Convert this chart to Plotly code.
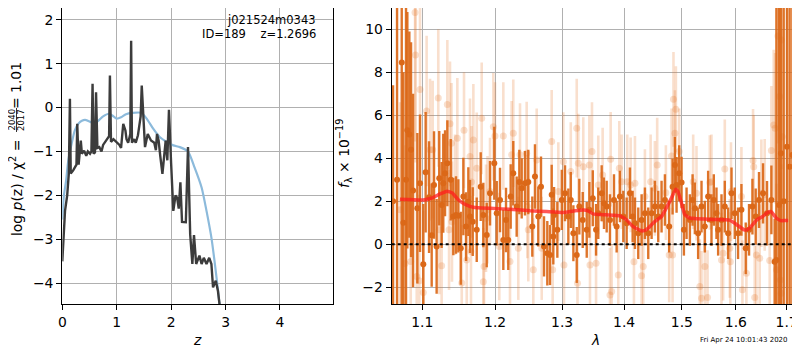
import plotly.graph_objects as go

# ---------------- data: left panel (redshift PDF) ----------------
z_pz = [0.0, 0.02, 0.05, 0.09, 0.12, 0.14, 0.155, 0.2, 0.24, 0.26, 0.275, 0.30, 0.34, 0.36, 0.40,
        0.44, 0.47, 0.51, 0.535, 0.556, 0.575, 0.60, 0.62, 0.645, 0.68, 0.72, 0.75, 0.79, 0.83,
        0.86, 0.875, 0.895, 0.94, 1.0, 1.05, 1.08, 1.12, 1.16, 1.18, 1.21, 1.25, 1.265, 1.28,
        1.32, 1.35, 1.39, 1.42, 1.44, 1.46, 1.49, 1.52, 1.57, 1.63, 1.69, 1.72, 1.74, 1.77, 1.80,
        1.84, 1.87, 1.90, 1.93, 1.96, 2.0, 2.04, 2.08, 2.11, 2.14, 2.17, 2.20, 2.27, 2.31, 2.35,
        2.39, 2.42, 2.46, 2.52, 2.56, 2.60, 2.65, 2.70, 2.74, 2.77, 2.82, 2.86, 2.92, 2.95]
logpz = [-3.5, -2.9, -2.35, -2.0, -1.5, 0.2, -1.5, -1.43, -1.36, -1.3, -0.37, -1.3, -0.75, -1.05, -0.98,
         -1.1, -1.0, -1.05, -1.0, 0.54, -1.05, -1.02, 0.35, -0.92, -0.9, -1.0, -0.85, -0.78, -0.70,
         -0.65, 0.73, -0.78, -0.72, -0.78, -0.85, -0.92, -0.37, -0.52, -0.72, -0.8, -0.6, 1.52, -0.8,
         -0.72, -0.8, -0.63, -0.35, -0.2, 0.5, -0.4, -0.9, -0.6, -0.75, -0.8, -0.97, -0.6, -0.75, -1.1,
         -1.51, -1.13, -0.75, -1.2, -0.05, -1.28, -2.35, -2.0, -2.05, -2.3, -1.70, -2.6, -2.61, -0.9, -2.88,
         -3.56, -2.9, -3.56, -3.37, -3.56, -3.42, -3.56, -3.42, -3.56, -4.09, -3.94, -4.17, -4.8, -5.5]

z_prior = [0.0, 0.03, 0.07, 0.11, 0.17, 0.23, 0.30, 0.36, 0.42, 0.51, 0.57, 0.66, 0.75, 0.86, 0.94,
           1.0, 1.08, 1.17, 1.29, 1.45, 1.55, 1.67, 1.79, 1.92, 2.04, 2.16, 2.31, 2.43, 2.56, 2.65,
           2.74, 2.82, 2.89, 2.93]
logp_prior = [-2.55, -2.0, -1.66, -1.2, -0.83, -0.52, -0.36, -0.3, -0.28, -0.32, -0.36, -0.3, -0.2, -0.14,
              -0.2, -0.25, -0.22, -0.15, -0.12, -0.12, -0.25, -0.48, -0.67, -0.78, -0.86, -0.9, -1.0,
              -1.36, -1.82, -2.35, -2.96, -3.72, -4.48, -5.0]

# ---------------- data: right panel (spectrum) ----------------
lam_dark = [1.0622, 1.0673, 1.0733, 1.0754, 1.0788, 1.0805, 1.0831, 1.0853, 1.0879, 1.0935,
            1.0970, 1.1013, 1.1044, 1.1089, 1.1124, 1.1155, 1.1190, 1.1225, 1.1257, 1.1279,
            1.1303, 1.1334, 1.1380, 1.1415, 1.1452, 1.1484, 1.1517, 1.1553, 1.1590, 1.1622,
            1.1645, 1.1683, 1.1739, 1.1795, 1.1832, 1.1880, 1.1927, 1.1988, 1.2023, 1.2070,
            1.2118, 1.2157, 1.2190, 1.2225, 1.2263, 1.2313, 1.2352, 1.2387, 1.2436, 1.2485,
            1.2545, 1.2585, 1.2635, 1.2676, 1.2722, 1.2772, 1.2813, 1.2839, 1.2864, 1.2875,
            1.2926, 1.2995, 1.3045, 1.3097, 1.3135, 1.3176, 1.3229, 1.3270, 1.3324, 1.3388,
            1.3430, 1.3485, 1.3538, 1.3574, 1.3629, 1.3667, 1.3711, 1.3765, 1.3831, 1.3875,
            1.3930, 1.3986, 1.4042, 1.4097, 1.4143, 1.4182, 1.4238, 1.4295, 1.4352, 1.4409,
            1.4467, 1.4524, 1.4582, 1.4640, 1.4699, 1.4774, 1.4834, 1.4875, 1.4905, 1.4952,
            1.4994, 1.5036, 1.5084, 1.5144, 1.5193, 1.5234, 1.5294, 1.5356, 1.5417, 1.5478,
            1.5540, 1.5583, 1.5633, 1.5664, 1.5727, 1.5789, 1.5852, 1.5916, 1.5978, 1.6041,
            1.6106, 1.6189, 1.6253, 1.6319, 1.6383, 1.6448, 1.6527, 1.6606, 1.6693, 1.6758,
            1.6793, 1.6845, 1.6885, 1.6940, 1.7007, 1.7061, 1.7117, 1.7174, 1.7225]
flux_dark = [2.0, 3.0, 8.45, 1.0, 3.0, 5.3, 5.1, 4.4, 2.5, 1.67,
             2.84, -0.93, 3.35, 2.19, 0.42, 2.76, -0.1, 3.07, 1.83, 2.84,
             3.3, 3.77, 3.0, 1.29, 1.36, 1.32, -0.19, 2.22, 0.82, 1.98,
             1.29, 1.05, 0.67, 2.68, 1.36, 0.43, 2.37, 3.77, 1.44, 2.06,
             0.2, 1.13, 0.2, 2.22, 3.3, 1.75, 2.9, 2.6, 2.84, 2.9,
             0.82, 3.15, 1.29, 2.68, -0.1, -0.42, -0.5, 2.3, 0.36, 1.36,
             0.67, 2.06, 2.37, 1.29, 2.06, 0.51, -0.5, 1.75, 1.13, 0.67,
             1.6, 2.14, 0.67, 1.44, 2.37, 1.91, 1.75, 1.13, 2.06, 0.82,
             2.22, 1.29, 0.98, 2.37, 1.29, 0.98, 0.51, 1.13, 1.44, 0.51,
             1.44, 1.75, 1.29, 1.75, 2.06, 0.82, 2.68, 3.69, 2.76, 3.3,
             2.87, 0.67, 1.44, 1.13, 2.06, 1.67, 0.51, 1.75, 0.82, 2.22,
             1.13, 2.06, 1.44, 0.67, 1.13, 1.75, 0.51, 2.37, 1.44, 0.51,
             1.6, -0.19, 0.67, 1.75, 1.29, 2.06, 2.37, 1.44, 2.06, -0.81,
             -0.73, 1.83, 4.23, 2.0, 4.54, 3.61, 4.15, 3.0, 3.0]
err_dark = [5.4, 12, 12, 7.0, 12, 5.5, 4.8, 5.0, 4.5, 3.5,
            3.2, 2.8, 2.8, 2.6, 2.4, 2.5, 2.2, 2.2, 2.0, 2.3,
            2.0, 2.0, 1.9, 1.8, 1.8, 1.7, 1.7, 1.8, 1.6, 1.6,
            1.7, 1.6, 1.5, 1.6, 1.5, 1.5, 1.5, 1.7, 1.5, 1.5,
            1.4, 1.5, 1.4, 1.5, 1.5, 1.4, 1.5, 1.4, 1.5, 1.5,
            1.4, 1.5, 1.4, 1.4, 1.4, 1.5, 1.4, 1.4, 1.3, 1.3,
            1.3, 1.4, 1.3, 1.3, 1.3, 1.3, 1.3, 1.3, 1.3, 1.3,
            1.3, 1.3, 1.2, 1.2, 1.3, 1.2, 1.2, 1.2, 1.2, 1.2,
            1.2, 1.2, 1.2, 1.2, 1.2, 1.2, 1.2, 1.2, 1.2, 1.2,
            1.2, 1.2, 1.2, 1.2, 1.2, 1.2, 1.3, 1.3, 1.3, 1.3,
            1.2, 1.2, 1.2, 1.2, 1.2, 1.2, 1.2, 1.2, 1.2, 1.2,
            1.2, 1.2, 1.2, 1.2, 1.2, 1.2, 1.2, 1.2, 1.2, 1.2,
            1.2, 1.2, 1.2, 1.3, 1.3, 1.3, 1.4, 1.5, 1.6, 2.0,
            12, 12, 14, 14, 14, 14, 14, 14, 14]

lam_light = [1.0711, 1.0775, 1.0849, 1.0905, 1.0911, 1.0927, 1.0961, 1.0970, 1.1013, 1.1057,
             1.1102, 1.1137, 1.1212, 1.1225, 1.1257, 1.1334, 1.1357, 1.1370, 1.1390, 1.1397,
             1.1438, 1.1470, 1.1531, 1.1562, 1.1600, 1.1645, 1.1659, 1.1666, 1.1692, 1.1739,
             1.1809, 1.1842, 1.1832, 1.1870, 1.1891, 1.1927, 1.1974, 1.1998, 1.2060, 1.2118,
             1.2215, 1.2239, 1.2263, 1.2337, 1.2362, 1.2461, 1.2470, 1.2485, 1.2560, 1.2611,
             1.2687, 1.2839, 1.2854, 1.2941, 1.3019, 1.3029, 1.3135, 1.3229, 1.3241, 1.3254,
             1.3333, 1.3430, 1.3440, 1.3472, 1.3538, 1.3574, 1.3645, 1.3765, 1.3776, 1.3793,
             1.3902, 1.3919, 1.3958, 1.4052, 1.4109, 1.4165, 1.4182, 1.4295, 1.4323, 1.4352,
             1.4450, 1.4524, 1.4564, 1.4716, 1.4774, 1.4816, 1.4834, 1.4850, 1.4875, 1.4893,
             1.4952, 1.5204, 1.5264, 1.5325, 1.5356, 1.5417, 1.5467, 1.5509, 1.5540, 1.5727,
             1.5758, 1.5789, 1.5883, 1.5893, 1.5906, 1.6125, 1.6106, 1.6202, 1.6331, 1.6344,
             1.6364, 1.6396, 1.6461, 1.6494, 1.6560, 1.6659, 1.6693, 1.6739, 1.6768, 1.6793,
             1.6825, 1.6859, 1.6872, 1.6889, 1.6893, 1.6910]
flux_light = [1.6, -0.9, -0.8, 10.78, 8.8, -1.5, -1.7, 7.2, -2.25, 6.2,
              4.4, 4.4, 6.8, 0.67, -1.0, 6.5, 0.67, 5.6, 4.7, 1.05,
              2.3, 4.93, -1.8, 5.3, -0.73, 4.08, -0.34, 2.9, 4.85, 3.53,
              5.86, -1.04, -1.74, 1.21, 1.6, 2.45, 5.47, 5.04, -0.1, 5.04,
              -0.8, 4.16, 5.16, -0.19, 4.16, 4.23, 1.75, 0.67, -1.19, 3.92,
              -0.19, 4.78, -1.19, 2.45, 3.84, -0.96, 3.38, 5.4, -1.81, 3.77,
              3.61, 3.69, -0.96, 4.31, -0.88, 2.76, 3.22, -2.36, 3.95, -2.2,
              -1.43, 3.53, 2.91, 2.91, 2.76, -0.81, 2.84, -1.47, -1.04, 2.22,
              2.91, 2.6, 3.69, 2.4, -0.5, 4.11, -0.5, 6.74, 5.16, 6.28,
              4.31, 2.91, 2.37, -1.97, -2.51, -1.04, -2.48, 2.87, 2.91, -0.73,
              -0.42, 3.5, -0.19, -0.81, 2.45, -2.12, 2.22, -1.35, 3.89, 3.61,
              -2.48, -0.5, -0.65, 2.37, 2.3, -0.76, 4.36, 5.55, 5.4, -1.19,
              9.69, 6.87, -1.66, -2.28, 9.5, 5.0]
err_light = [5.0, 5.5, 5.0, 6.0, 5.0, 4.0, 4.0, 4.0, 3.8, 3.5,
             3.3, 3.2, 3.2, 3.0, 3.0, 3.0, 2.8, 2.9, 2.8, 2.8,
             2.8, 2.8, 2.7, 2.7, 2.7, 2.7, 2.6, 2.6, 2.6, 2.6,
             2.6, 2.5, 2.5, 2.5, 2.5, 2.5, 2.5, 2.5, 2.5, 2.5,
             2.5, 2.5, 2.5, 2.4, 2.4, 2.4, 2.4, 2.4, 2.4, 2.4,
             2.4, 2.4, 2.4, 2.3, 2.3, 2.3, 2.3, 2.3, 2.3, 2.3,
             2.3, 2.3, 2.3, 2.3, 2.3, 2.3, 2.2, 2.2, 2.2, 2.2,
             2.2, 2.2, 2.2, 2.2, 2.2, 2.2, 2.2, 2.2, 2.2, 2.2,
             2.2, 2.2, 2.2, 2.2, 2.2, 2.2, 2.2, 2.2, 2.0, 2.0,
             2.0, 2.2, 2.2, 2.2, 2.2, 2.2, 2.2, 2.2, 2.2, 2.2,
             2.2, 2.3, 2.3, 2.3, 2.3, 2.3, 2.3, 2.3, 2.4, 2.4,
             2.4, 2.4, 2.5, 2.5, 2.6, 2.8, 3.0, 3.5, 3.5, 4.0,
             5.0, 5.0, 5.0, 6.0, 6.0, 5.0]

lam_model = [1.071, 1.101, 1.112, 1.1235, 1.133, 1.140, 1.148, 1.158, 1.169, 1.193, 1.226, 1.251,
             1.276, 1.302, 1.318, 1.334, 1.341, 1.349, 1.371, 1.393, 1.404, 1.415, 1.430, 1.438,
             1.452, 1.464, 1.472, 1.482, 1.489, 1.493, 1.500, 1.505, 1.514, 1.526, 1.556, 1.588,
             1.601, 1.617, 1.625, 1.640, 1.652, 1.662, 1.669, 1.679, 1.688, 1.697, 1.703]
flux_model = [2.09, 2.06, 2.14, 2.34, 2.47, 2.39, 2.08, 1.85, 1.72, 1.67, 1.62, 1.56,
              1.52, 1.48, 1.55, 1.59, 1.55, 1.41, 1.37, 1.32, 1.13, 0.82, 0.62, 0.69,
              1.05, 1.29, 1.67, 2.18, 2.56, 2.45, 1.85, 1.38, 1.22, 1.19, 1.15, 1.12,
              0.92, 0.66, 0.72, 1.12, 1.29, 1.48, 1.52, 1.22, 1.10, 1.10, 1.10]

x_ticks_left = [0, 1, 2, 3, 4]
y_ticks_left = [-4, -3, -2, -1, 0, 1, 2]
x_ticks_right = [1.1, 1.2, 1.3, 1.4, 1.5, 1.6, 1.7]
y_ticks_right = [-2, 0, 2, 4, 6, 8, 10]


def lab(v):
    s = f"{v:g}"
    return s.replace("-", "\u2212")


# The page body has an 8 px margin, so the figure is drawn 8 px in from the
# window's top-left corner; size and positions account for that.
OFF = 8
W, H = 800 - OFF, 350 - OFF
FONT = "DejaVu Sans"
FS = 13.9


def px(x):
    return (x - OFF) / W


def py(y):
    return 1 - (y - OFF) / H


DARK = "rgb(219,104,24)"
LIGHT = "rgba(228,118,40,0.23)"

fig = go.Figure()

# left panel
fig.add_trace(go.Scatter(x=z_prior, y=logp_prior, mode="lines", xaxis="x", yaxis="y",
                         line=dict(color="rgb(140,186,219)", width=2.2, shape="spline", smoothing=0.6),
                         hoverinfo="skip"))
fig.add_trace(go.Scatter(x=z_pz, y=logpz, mode="lines", xaxis="x", yaxis="y",
                         line=dict(color="rgb(60,60,60)", width=2.4), hoverinfo="skip"))

# right panel
fig.add_trace(go.Scatter(x=lam_light, y=flux_light, mode="markers", xaxis="x2", yaxis="y2",
                         marker=dict(color=LIGHT, size=7, line=dict(width=0)),
                         error_y=dict(type="data", array=err_light, visible=True, color=LIGHT,
                                      thickness=2.6, width=0),
                         hoverinfo="skip"))
fig.add_trace(go.Scatter(x=lam_dark, y=flux_dark, mode="markers", xaxis="x2", yaxis="y2",
                         marker=dict(color=DARK, size=6, line=dict(width=0)),
                         error_y=dict(type="data", array=err_dark, visible=True,
                                      color="rgba(219,104,24,0.92)", thickness=2.4, width=0),
                         hoverinfo="skip"))
fig.add_trace(go.Scatter(x=lam_model, y=flux_model, mode="lines", xaxis="x2", yaxis="y2",
                         line=dict(color="rgba(255,30,30,0.75)", width=3.5, shape="spline", smoothing=0.4),
                         hoverinfo="skip"))

axis_common = dict(showgrid=True, gridcolor="#b0b0b0", gridwidth=1, zeroline=False,
                   showline=True, linecolor="black", linewidth=1.2, mirror=True,
                   ticks="outside", ticklen=5, tickwidth=1, tickcolor="black",
                   tickfont=dict(family=FONT, size=FS, color="black"), automargin=False)

# plot areas: left x 62-333, right x 392-799, bottom at y=304; the top edge
# can only start at the figure's top (y=8), so the ranges keep the reference scale.
fig.update_layout(
    width=W, height=H, margin=dict(l=0, r=0, t=0, b=0),
    paper_bgcolor="white", plot_bgcolor="white", showlegend=False,
    xaxis=dict(domain=[px(62.3), px(333.3)], range=[0, 4.98], tickmode="array",
               tickvals=x_ticks_left, ticktext=[lab(v) for v in x_ticks_left], anchor="y", **axis_common),
    yaxis=dict(domain=[py(304), 1], range=[-4.47, 2.266], tickmode="array",
               tickvals=y_ticks_left, ticktext=[lab(v) for v in y_ticks_left], anchor="x", **axis_common),
    xaxis2=dict(domain=[px(391.7), px(799)], type="log", range=[0.02551, 0.23686], tickmode="array",
                tickvals=x_ticks_right, ticktext=[lab(v) for v in x_ticks_right], anchor="y2", **axis_common),
    yaxis2=dict(domain=[py(304), 1], range=[-2.78, 10.99], tickmode="array",
                tickvals=y_ticks_right, ticktext=[lab(v) for v in y_ticks_right], anchor="x2", **axis_common),
)

# zero line
fig.add_shape(type="line", xref="x2 domain", yref="y2", x0=0, x1=1, y0=0, y1=0,
              line=dict(color="black", width=2, dash="dot"), layer="above")

LX = 16  # centre column of the left y label
ann = []
ann.append(dict(text="j021524m0343", x=px(318), y=py(20), xanchor="right", yanchor="middle",
                font=dict(family=FONT, size=11.5, color="black")))
ann.append(dict(text="ID=189\u00a0\u00a0\u00a0\u00a0z=1.2696", x=px(318), y=py(34), xanchor="right",
                yanchor="middle", font=dict(family=FONT, size=11.5, color="black")))
ann.append(dict(text="<i>z</i>", x=px(197), y=py(340), xanchor="center", yanchor="middle",
                font=dict(family=FONT, size=FS, color="black")))
ann.append(dict(text="<i>λ</i>", x=px(595), y=py(340), xanchor="center", yanchor="middle",
                font=dict(family=FONT, size=FS, color="black")))
ann.append(dict(text="<i>f</i><sub>λ</sub> × 10<sup>−19</sup>", x=px(344), y=py(154), textangle=-90,
                xanchor="center", yanchor="middle", font=dict(family=FONT, size=FS, color="black")))
ann.append(dict(text="log <i>p</i>(z) / χ<sup>2</sup> =", x=px(LX), y=py(188), textangle=-90,
                xanchor="center", yanchor="middle", font=dict(family=FONT, size=FS, color="black")))
ann.append(dict(text="2040", x=px(LX - 4.5), y=py(120), textangle=-90, xanchor="center", yanchor="middle",
                font=dict(family=FONT, size=8.5, color="black")))
ann.append(dict(text="2017", x=px(LX + 5), y=py(120), textangle=-90, xanchor="center", yanchor="middle",
                font=dict(family=FONT, size=8.5, color="black")))
ann.append(dict(text="= 1.01", x=px(LX), y=py(86), textangle=-90, xanchor="center", yanchor="middle",
                font=dict(family=FONT, size=FS, color="black")))
ann.append(dict(text="Fri Apr 24 10:01:43 2020", x=px(744), y=py(340), xanchor="center", yanchor="middle",
                font=dict(family=FONT, size=7, color="black")))
for a in ann:
    a.update(xref="paper", yref="paper", showarrow=False)
fig.update_layout(annotations=ann)

fig.add_shape(type="line", xref="paper", yref="paper", x0=px(LX + 0.5), x1=px(LX + 0.5),
              y0=py(108), y1=py(132), line=dict(color="black", width=0.8))

fig.write_html("out.html")
